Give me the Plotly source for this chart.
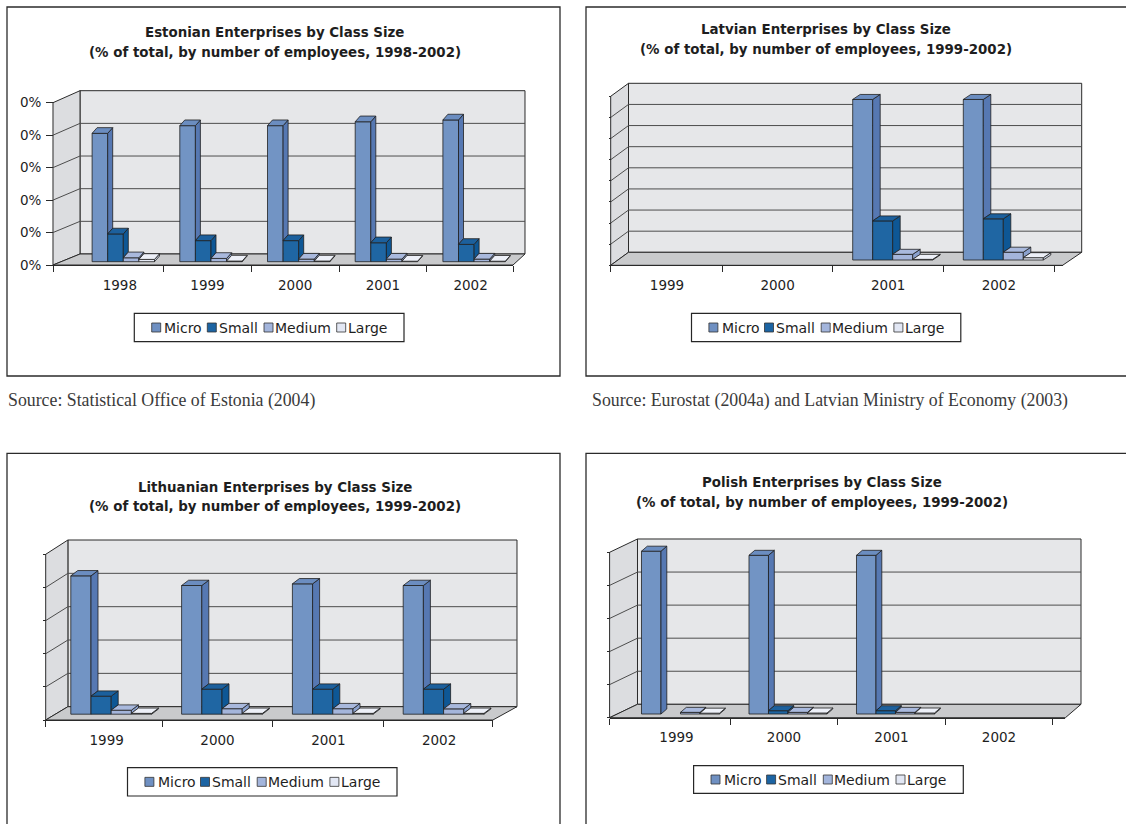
import plotly.graph_objects as go

W, H = 1126, 824

# ---------------- data ----------------
SERIES = ["Micro", "Small", "Medium", "Large"]

EST_YEARS = ["1998", "1999", "2000", "2001", "2002"]
EST_MICRO = [78.6, 83.3, 83.3, 85.7, 86.8]
EST_SMALL = [17.0, 12.9, 12.9, 11.6, 10.6]
EST_MEDIUM = [2.4, 2.0, 1.6, 1.6, 1.6]
EST_LARGE = [1.4, 0.4, 0.4, 0.3, 0.3]
EST_YTICKS = [0, 20, 40, 60, 80, 100]

LAT_YEARS = ["1999", "2000", "2001", "2002"]
LAT_MICRO = [None, None, 76.0, 76.0]
LAT_SMALL = [None, None, 18.5, 19.5]
LAT_MEDIUM = [None, None, 2.7, 3.7]
LAT_LARGE = [None, None, 0.3, 1.1]
LAT_YTICKS = [0, 10, 20, 30, 40, 50, 60, 70, 80]

LIT_YEARS = ["1999", "2000", "2001", "2002"]
LIT_MICRO = [83.0, 77.2, 78.2, 77.2]
LIT_SMALL = [10.8, 15.0, 15.0, 15.0]
LIT_MEDIUM = [2.4, 3.3, 3.3, 3.2]
LIT_LARGE = [0.5, 0.5, 0.5, 0.5]
LIT_YTICKS = [0, 20, 40, 60, 80, 100]

POL_YEARS = ["1999", "2000", "2001", "2002"]
POL_MICRO = [98.5, 96.0, 96.0, None]
POL_SMALL = [0.0, 2.0, 2.0, None]
POL_MEDIUM = [1.0, 1.0, 1.0, None]
POL_LARGE = [0.5, 0.6, 0.6, None]
POL_YTICKS = [0, 20, 40, 60, 80, 100]

Y_TICK_TEXT = "0%"

# ---------------- styles ----------------
FRONT = ["#7294c4", "#1f66a3", "#a4b5db", "#e6eaf5"]
TOP = ["#6b8dc0", "#1c609d", "#a9b9dd", "#edf0f8"]
SIDE = ["#5678b2", "#0e5795", "#8ba1cd", "#cdd5e8"]
SWATCH = ["#6f90c2", "#1c64a3", "#a3b5dc", "#e2e7f4"]
EDGE = "#1f1f1f"
BACK = "#e6e7e9"
LEFTW = "#dcdde0"
FLOOR = "#c9cacc"
GRID = "#4d4d4d"
AXIS = "#2a2a2a"
TXT = "#1e1e1e"

PANELS = [
    dict(title=["Estonian Enterprises by Class Size",
                "(% of total, by number of employees, 1998-2002)"],
         years=EST_YEARS, values=[EST_MICRO, EST_SMALL, EST_MEDIUM, EST_LARGE],
         yticks=EST_YTICKS, ylabels=True,
         source="Source: Statistical Office of Estonia (2004)",
         g=dict(box=(7, 7, 560, 376), tcx=274.5, ty=(32.5, 52.7),
                fl=53, bl=80, br=525, fr=513, tb=90.7, fb=254, ff=265, tf=102.7,
                cx0=123.3, pitch=87.7, bw=15.6, base=261.7, dx=5, dy=5.7, fs=-3.5,
                leg=(134.3, 313.3, 404, 341.7), src=(6.5, 400), ticklen=7)),
    dict(title=["Latvian Enterprises by Class Size",
                "(% of total, by number of employees, 1999-2002)"],
         years=LAT_YEARS, values=[LAT_MICRO, LAT_SMALL, LAT_MEDIUM, LAT_LARGE],
         yticks=LAT_YTICKS, ylabels=False,
         source="Source: Eurostat (2004a) and Latvian Ministry of Economy (2003)",
         g=dict(box=(586, 7, 1132, 376), tcx=826, ty=(30, 50),
                fl=610.7, bl=628.5, br=1081.7, fr=1062.6, tb=83.3, fb=252.3, ff=265.3, tf=96.3,
                cx0=671.5, pitch=110.6, bw=20, base=260, dx=7.5, dy=5, fs=-4.5,
                leg=(691.5, 313.3, 960.8, 341.7), src=(590.5, 400), ticklen=2)),
    dict(title=["Lithuanian Enterprises by Class Size",
                "(% of total, by number of employees, 1999-2002)"],
         years=LIT_YEARS, values=[LIT_MICRO, LIT_SMALL, LIT_MEDIUM, LIT_LARGE],
         yticks=LIT_YTICKS, ylabels=False, source=None,
         g=dict(box=(7, 453.3, 560, 830), tcx=274.5, ty=(487.7, 506.7),
                fl=45.7, bl=67.9, br=517, fr=492.9, tb=540, fb=706.7, ff=720, tf=554.3,
                cx0=111.2, pitch=110.8, bw=20.2, base=714.2, dx=7, dy=5.3, fs=-4.5,
                leg=(127.5, 767.7, 397, 796), src=None, ticklen=3)),
    dict(title=["Polish Enterprises by Class Size",
                "(% of total, by number of employees, 1999-2002)"],
         years=POL_YEARS, values=[POL_MICRO, POL_SMALL, POL_MEDIUM, POL_LARGE],
         yticks=POL_YTICKS, ylabels=False, source=None,
         g=dict(box=(586, 453.3, 1132, 830), tcx=821.5, ty=(482.7, 502.7),
                fl=609.6, bl=637.5, br=1081, fr=1065.4, tb=539, fb=704.3, ff=717.7, tf=552.3,
                cx0=680.5, pitch=107.5, bw=19.5, base=714, dx=5.8, dy=5, fs=-4,
                leg=(693.6, 765.7, 963.3, 793.3), src=None, ticklen=3)),
]

LEG_SW = [17.4, 73.0, 129.7, 202.4]
LEG_TX = [29.0, 83.4, 139.7, 212.4]


def X(x):
    return x / W


def Y(y):
    return 1 - y / H


def path(pts):
    return "M " + " L ".join(f"{X(a):.6f},{Y(b):.6f}" for a, b in pts) + " Z"


def axid(letter, n):
    return letter if n == 1 else f"{letter}{n}"


def axkey(letter, n):
    return f"{letter}axis" if n == 1 else f"{letter}axis{n}"


fig = go.Figure()
shapes, annos, axes = [], [], {}

for p, P in enumerate(PANELS, start=1):
    g = P["g"]
    n = len(P["years"])
    yt = P["yticks"]
    ymax = yt[-1]
    fl, bl, br, fr = g["fl"], g["bl"], g["br"], g["fr"]
    tb, fb, ff, tf = g["tb"], g["fb"], g["ff"], g["tf"]

    # panel border
    bx = g["box"]
    shapes.append(dict(type="rect", xref="paper", yref="paper", layer="below",
                       x0=X(bx[0]), x1=X(bx[2]), y0=Y(bx[1]), y1=Y(bx[3]),
                       line=dict(color="#2b2b2b", width=1.3), fillcolor="rgba(0,0,0,0)"))
    # titles
    for t, ty in zip(P["title"], g["ty"]):
        annos.append(dict(text=t, x=X(g["tcx"]), y=Y(ty), xref="paper", yref="paper",
                          xanchor="center", yanchor="middle", showarrow=False,
                          font=dict(family="DejaVu Sans", size=13.4, color=TXT, weight="bold")))
    # walls and floor
    shapes.append(dict(type="path", path=path([(bl, tb), (br, tb), (br, fb), (bl, fb)]),
                       xref="paper", yref="paper", layer="below", fillcolor=BACK,
                       line=dict(color=AXIS, width=1)))
    shapes.append(dict(type="path", path=path([(fl, tf), (bl, tb), (bl, fb), (fl, ff)]),
                       xref="paper", yref="paper", layer="below", fillcolor=LEFTW,
                       line=dict(color=AXIS, width=1)))
    shapes.append(dict(type="path", path=path([(fl, ff), (bl, fb), (br, fb), (fr, ff)]),
                       xref="paper", yref="paper", layer="below", fillcolor=FLOOR,
                       line=dict(color=AXIS, width=1)))
    sb = (fb - tb) / ymax
    sf = (ff - tf) / ymax
    for v in yt[1:-1]:
        yb = fb - v * sb
        yf = ff - v * sf
        shapes.append(dict(type="line", xref="paper", yref="paper", layer="below",
                           x0=X(bl), x1=X(br), y0=Y(yb), y1=Y(yb), line=dict(color=GRID, width=1)))
        shapes.append(dict(type="line", xref="paper", yref="paper", layer="below",
                           x0=X(fl), x1=X(bl), y0=Y(yf), y1=Y(yb), line=dict(color=GRID, width=1)))

    # axes
    pitch, cx0, base = g["pitch"], g["cx0"], g["base"]
    scale = sb
    xa, ya = axid("x", p), axid("y", p)
    xl, yl = axid("x", p + 4), axid("y", p + 4)
    rx0 = (fl - cx0) / pitch
    rx1 = (fr - cx0) / pitch
    top_px = min(tb, tf) - 10
    ry0 = (base - ff) / scale
    ry1 = (base - top_px) / scale
    shift = g["fs"] / pitch
    bounds = [rx0] + [min(i + 0.5 + shift, rx1) for i in range(n)]
    axes[axkey("x", p)] = dict(domain=[X(fl), X(fr)], range=[rx0, rx1], anchor=ya,
                               showgrid=False, zeroline=False, showline=True,
                               linecolor=AXIS, linewidth=1, ticks="outside", ticklen=6,
                               tickcolor=AXIS, tickwidth=1, tickmode="array",
                               tickvals=bounds, showticklabels=False, fixedrange=True)
    axes[axkey("y", p)] = dict(domain=[Y(ff), Y(top_px)], range=[ry0, ry1], anchor=xa,
                               visible=False, fixedrange=True)
    axes[axkey("x", p + 4)] = dict(overlaying=xa, anchor=ya, range=[rx0, rx1],
                                   tickmode="array", tickvals=[i + shift for i in range(n)],
                                   ticktext=P["years"], ticks="", showgrid=False,
                                   zeroline=False, showline=False, ticklabelstandoff=10,
                                   tickfont=dict(family="DejaVu Sans", size=13.5, color=TXT),
                                   fixedrange=True)
    yaxis_front = dict(overlaying=ya, anchor="free", position=X(fl), side="left",
                       range=[0, (ff - top_px) / sf], tickmode="array", tickvals=yt,
                       ticks="outside", ticklen=g["ticklen"], tickcolor=AXIS, tickwidth=1,
                       showgrid=False, zeroline=False, showline=False, fixedrange=True,
                       tickfont=dict(family="DejaVu Sans", size=13.5, color=TXT))
    if P["ylabels"]:
        yaxis_front["ticktext"] = [Y_TICK_TEXT] * len(yt)
        yaxis_front["ticklabelstandoff"] = 2
    else:
        yaxis_front["showticklabels"] = False
    axes[axkey("y", p + 4)] = yaxis_front
    fig.add_trace(go.Scatter(x=[None], y=[None], xaxis=xl, yaxis=ya, showlegend=False,
                             hoverinfo="skip", mode="markers"))
    fig.add_trace(go.Scatter(x=[None], y=[None], xaxis=xa, yaxis=yl, showlegend=False,
                             hoverinfo="skip", mode="markers"))

    # bars (front faces)
    bwu = g["bw"] / pitch
    ddx = g["dx"] / pitch
    ddy = g["dy"] / scale
    vals = P["values"]
    for k, name in enumerate(SERIES):
        off = (k - 1.5) * bwu
        xs = [i + off for i, v in enumerate(vals[k]) if v]
        ys = [v for v in vals[k] if v]
        fig.add_trace(go.Bar(x=xs, y=ys, width=bwu, name=name, xaxis=xa, yaxis=ya,
                             marker=dict(color=FRONT[k], line=dict(color=EDGE, width=0.8)),
                             showlegend=False, hoverinfo="skip"))
    # 3-D side and top faces, derived from the same values
    for k in range(4):
        off = (k - 1.5) * bwu
        for i in range(n):
            v = vals[k][i]
            if not v:
                continue
            x0 = i + off - bwu / 2
            x1 = x0 + bwu
            nxt = vals[k + 1][i] if k < 3 else 0
            lo = min(max(nxt or 0, 0), v)
            if lo < v:
                fig.add_trace(go.Scatter(
                    x=[x1, x1, x1 + ddx, x1 + ddx, x1], y=[lo, v, v + ddy, lo + ddy, lo],
                    xaxis=xa, yaxis=ya, mode="lines", fill="toself", fillcolor=SIDE[k],
                    line=dict(color=EDGE, width=0.8), showlegend=False, hoverinfo="skip"))
            fig.add_trace(go.Scatter(
                x=[x0, x1, x1 + ddx, x0 + ddx, x0], y=[v, v, v + ddy, v + ddy, v],
                xaxis=xa, yaxis=ya, mode="lines", fill="toself", fillcolor=TOP[k],
                line=dict(color=EDGE, width=0.8), showlegend=False, hoverinfo="skip"))

    # legend box
    lx0, ly0, lx1, ly1 = g["leg"]
    shapes.append(dict(type="rect", xref="paper", yref="paper", layer="below",
                       x0=X(lx0), x1=X(lx1), y0=Y(ly0), y1=Y(ly1),
                       line=dict(color="#262626", width=1.2), fillcolor="white"))
    lcy = (ly0 + ly1) / 2
    for k, name in enumerate(SERIES):
        sx = lx0 + LEG_SW[k]
        shapes.append(dict(type="rect", xref="paper", yref="paper", layer="below",
                           x0=X(sx), x1=X(sx + 9), y0=Y(lcy - 4.5), y1=Y(lcy + 4.5),
                           line=dict(color="#333333", width=0.8), fillcolor=SWATCH[k]))
        annos.append(dict(text=name, x=X(lx0 + LEG_TX[k]), y=Y(lcy), xref="paper", yref="paper",
                          xanchor="left", yanchor="middle", showarrow=False, borderpad=0,
                          font=dict(family="DejaVu Sans", size=14, color=TXT)))
    # source
    if P["source"]:
        sx, sy = g["src"]
        annos.append(dict(text=P["source"], x=X(sx), y=Y(sy), xref="paper", yref="paper",
                          xanchor="left", yanchor="middle", showarrow=False, borderpad=0,
                          font=dict(family="Liberation Serif", size=17.8, color="#3a3a3a")))

fig.update_layout(width=W, height=H, margin=dict(l=0, r=0, t=0, b=0), autosize=False,
                  template="none", paper_bgcolor="white", plot_bgcolor="rgba(0,0,0,0)",
                  barmode="overlay", showlegend=False, shapes=shapes, annotations=annos,
                  **axes)

fig.write_html("out.html", config={"displayModeBar": False, "staticPlot": True},
               post_script="document.body.style.margin='0';")
